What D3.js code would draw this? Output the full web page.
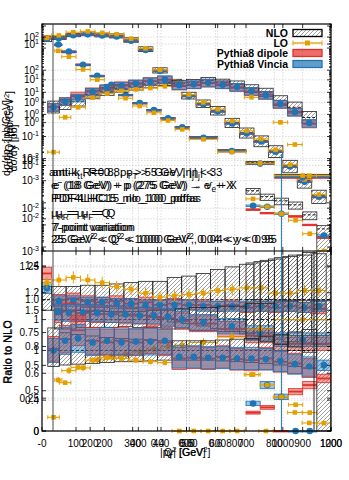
<!DOCTYPE html>
<html lang="en">
<head>
<meta charset="UTF-8">
<title>Jet cross sections and ratio to NLO</title>
<script src="https://cdn.jsdelivr.net/npm/d3@7/dist/d3.min.js"></script>
<style>
  body { margin: 0; background: #fff; }
  svg { display: block; font-family: 'Liberation Sans', Arial, sans-serif; }
</style>
</head>
<body>
<svg id="chart" width="349" height="480"></svg>
<script>
// ---- data: jet pT distribution (bins in GeV as on the pT axis)
const ptEdges = [0, 40, 100, 160, 220, 280, 340, 400, 460, 520, 580, 640, 700, 760, 820, 880, 940, 1000, 1060, 1120, 1180];
const ptNLO = [85, 95, 111, 118, 111, 106, 85, 52, 16.8, 8.8, 4.35, 2.82, 1.93, 1.01, 0.59, 0.38, 0.22, 0.099, 0.044, 0.0195];
const ptNLOup = [1.1, 1.1, 1.1, 1.11, 1.11, 1.12, 1.13, 1.14, 1.14, 1.17, 1.18, 1.2, 1.23, 1.25, 1.27, 1.29, 1.31, 1.33, 1.34, 1.35];
const ptNLOdn = [0.92, 0.92, 0.92, 0.91, 0.91, 0.9, 0.89, 0.88, 0.86, 0.83, 0.82, 0.8, 0.78, 0.76, 0.74, 0.72, 0.7, 0.68, 0.67, 0.66];
const ptLO = [1.13, 1.15, 1.17, 1.15, 1.13, 1.1, 1.08, 1.05, 1.02, 1.03, 1.04, 1.05, 1.07, 1.08, 1.09, 1.09, 1.05, 1.05, 1.07, 1.07];
const ptDipole = [1.2, 1.0, 1.01, 0.99, 0.98, 0.99, 0.97, 0.98, 0.96, 0.97, 0.96, 0.96, 0.95, 0.96, 0.94, 0.95, 0.94, 0.95, 0.94, 0.93];
const ptVincia = [1.09, 0.99, 0.99, 0.98, 0.98, 0.97, 0.97, 0.96, 0.96, 0.96, 0.96, 0.95, 0.95, 0.95, 0.95, 0.95, 0.95, 0.95, 0.94, 0.95];

// ---- Q2 distribution
const q2Edges = [25, 50, 100, 150, 200, 250, 300, 350, 400, 450, 500, 600, 700, 800, 1000];
const q2NLO = [1368, 658, 169, 53, 20.8, 7.3, 3.16, 1.52, 0.66, 0.26, 0.09, 0.023, 0.0066, 0.0017];
const q2NLOup = [1.08, 1.07, 1.07, 1.07, 1.06, 1.06, 1.06, 1.07, 1.07, 1.08, 1.09, 1.1, 1.12, 1.14];
const q2NLOdn = [0.93, 0.93, 0.94, 0.94, 0.94, 0.95, 0.94, 0.94, 0.93, 0.93, 0.92, 0.91, 0.9, 0.88];
const q2LO = [0.55, 0.62, 0.64, 0.7, 0.72, 0.74, 0.76, 0.78, 0.8, 0.81, 0.83, 0.87, 0.93, 1.0];
const q2Dipole = [1.04, 1.06, 1.05, 1.04, 1.04, 1.03, 1.03, 1.02, 1.01, 0.99, 0.97, 0.93, 0.88, 0.82];
const q2Vincia = [1.06, 1.05, 1.05, 1.05, 1.04, 1.04, 1.03, 1.03, 1.02, 1.0, 0.98, 0.95, 0.9, 0.85];

// ---- inelasticity y distribution
const yEdges = [0.02, 0.06, 0.1, 0.15, 0.2, 0.25, 0.3, 0.35, 0.4, 0.45, 0.5, 0.55, 0.6, 0.65, 0.7, 0.75, 0.8, 0.85, 0.9, 0.95];
const yNLO = [0.82, 0.92, 1.04, 1.37, 1.55, 1.74, 1.89, 2.04, 2.21, 2.13, 2.21, 2.39, 2.21, 2.04, 1.74, 1.49, 1.08, 0.82, 0.55];
const yNLOup = [1.28, 1.22, 1.2, 1.18, 1.16, 1.15, 1.14, 1.13, 1.12, 1.12, 1.12, 1.12, 1.13, 1.14, 1.15, 1.17, 1.2, 1.23, 1.26];
const yNLOdn = [0.8, 0.82, 0.83, 0.84, 0.85, 0.86, 0.86, 0.87, 0.88, 0.88, 0.88, 0.88, 0.87, 0.86, 0.85, 0.84, 0.82, 0.8, 0.78];
const yLO = [0.17, 0.6, 0.79, 0.88, 0.91, 0.9, 0.88, 0.86, 0.85, 0, 0, 0, 0, 0, 0.7, 0, 0.42, 0.23, 0.1];
const yDipole = [1.02, 1.14, 1.25, 1.12, 1.1, 1.12, 1.1, 1.13, 1.1, 0.9, 0.91, 0.9, 0.92, 0.89, 0.88, 0.9, 0.86, 0.84, 0.78];
const yVincia = [1.0, 1.12, 1.15, 1.1, 1.12, 1.1, 1.11, 1.11, 1.12, 0.92, 0.92, 0.91, 0.91, 0.9, 0.9, 0.89, 0.87, 0.83, 0.8];

// ---- high-Q2 tail
const hqEdges = [700, 750, 800, 850, 900, 950, 1000];
const hqNLO = [3.5e-4, 1.9e-4, 1.23e-4, 8.1e-5, 2.85e-5, 6.6e-6];
const hqNLOup = [1.28, 1.3, 1.32, 1.34, 1.36, 1.4];
const hqNLOdn = [0.7, 0.68, 0.66, 0.64, 0.6, 0.0];
const hqLO = [0.43, 0.35, 0.26, 0.2, 0.14, 0.06];
const hqDipole = [0.14, 0.18, 0, 0.3, 0.35, 0.4];
const hqVincia = [0.21, 0.35, 0.26, 0, 0, 0.5];
const hqVinciaErr = [0.05, 0.06, 500, 0, 0, 0.08];

// ---- axis ticks
const ptTicks = [0, 200, 400, 600, 800, 1000, 1200];
const ptLabels = ["-0", "200", "400", "600", "800", "1000", "1200"];
const q2Ticks = [100, 200, 300, 400, 500, 600, 700, 800, 900, 1000];
const yvTicks = [0.4, 0.5, 0.6];
const logTicksA = [2, 1, 0, -1, -2, -3];
const logTicksB = [2, 1, 0, -1, -2, -3];
const logTicksC = [1, 0, -1, -2];
const r2Ticks = [0, 0.25, 0.5, 0.75, 1, 1.25];
const r2Labels = ["0", "0.25", "0.5", "0.75", "1.0", "1.25"];
const r3Ticks = [0, 0.5, 1, 1.5];
const r4Ticks = [0.4, 0.6, 0.8, 1, 1.2, 1.4];

const legendNames = ["NLO", "LO", "Pythia8 dipole", "Pythia8 Vincia"];

// ---- layout
const L = 42, R = 331, TOP = 24, MID = 251, BOT = 431;
const LO_COL = "#e69f00", RED = "#e2312a", BLUE = "#1f74b4";

const svg = d3.select("#chart");
const defs = svg.append("defs");
defs.append("pattern").attr("id", "hatch").attr("patternUnits", "userSpaceOnUse")
  .attr("width", 4).attr("height", 4)
  .append("path").attr("d", "M-1,1 l2,-2 M0,4 l4,-4 M3,5 l2,-2")
  .attr("stroke", "#555").attr("stroke-width", 0.55);
defs.append("clipPath").attr("id", "clipTop").append("rect")
  .attr("x", L).attr("y", TOP).attr("width", R - L).attr("height", MID - TOP);
defs.append("clipPath").attr("id", "clipRatio").append("rect")
  .attr("x", L - 3).attr("y", MID).attr("width", R - L + 3).attr("height", BOT - MID + 4);

const xs = {
  pt: d3.scaleLinear().domain([0, 1200]).range([L, R]),
  q2: d3.scaleLinear().domain([-20, 1000]).range([L, R]),
  y: d3.scaleLinear().domain([0, 1]).range([L, R])
};
const ys = {
  A: d3.scaleLog().domain([1e-3, 202]).range([MID, TOP]).clamp(true),
  B: d3.scaleLog().domain([6.6e-7, 1.23e4]).range([MID, TOP]).clamp(true),
  C: d3.scaleLog().domain([2.8e-3, 22.1]).range([MID, TOP]).clamp(true)
};
const rs = {
  R2: d3.scaleLinear().domain([0, 1.371]).range([BOT, MID]).clamp(true),
  R3: d3.scaleLinear().domain([0, 2.235]).range([BOT, MID]).clamp(true),
  R4: d3.scaleLinear().domain([0.17, 1.511]).range([BOT, MID]).clamp(true)
};

const series = [
  { edges: ptEdges, nlo: ptNLO, up: ptNLOup, dn: ptNLOdn, lo: ptLO, dip: ptDipole, vin: ptVincia, x: "pt", y: "A", r: "R2", band: 0.04 },
  { edges: q2Edges, nlo: q2NLO, up: q2NLOup, dn: q2NLOdn, lo: q2LO, dip: q2Dipole, vin: q2Vincia, x: "q2", y: "B", r: "R4", band: 0.06 },
  { edges: yEdges, nlo: yNLO, up: yNLOup, dn: yNLOdn, lo: yLO, dip: yDipole, vin: yVincia, x: "y", y: "C", r: "R3", band: 0.15 },
  { edges: hqEdges, nlo: hqNLO, up: hqNLOup, dn: hqNLOdn, lo: hqLO, dip: hqDipole, vin: hqVincia, vErr: hqVinciaErr, x: "q2", y: "B", r: "R2", band: 0.08 }
];

// ---- grid
const grid = svg.append("g").attr("stroke", "#c4c4c4").attr("stroke-width", 0.6).attr("stroke-dasharray", "1.5,1.5");
[[xs.pt, ptTicks], [xs.q2, q2Ticks], [xs.y, yvTicks]].forEach(([sc, t]) => {
  t.forEach(v => grid.append("line").attr("x1", sc(v)).attr("x2", sc(v)).attr("y1", TOP).attr("y2", BOT));
});
[[ys.A, logTicksA], [ys.B, logTicksB], [ys.C, logTicksC]].forEach(([sc, t]) => {
  t.forEach(e => grid.append("line").attr("x1", L).attr("x2", R).attr("y1", sc(Math.pow(10, e))).attr("y2", sc(Math.pow(10, e))));
});
[[rs.R2, r2Ticks], [rs.R3, r3Ticks], [rs.R4, r4Ticks]].forEach(([sc, t]) => {
  t.forEach(v => grid.append("line").attr("x1", L).attr("x2", R).attr("y1", sc(v)).attr("y2", sc(v)));
});

// ---- series drawing
function drawSeries(g, s, ysc, isTop) {
  const xsc = xs[s.x];
  const ok = v => !isTop || v > 0;
  s.nlo.forEach((n, i) => {
    const base = isTop ? n : 1;
    const x0 = xsc(s.edges[i]), x1 = xsc(s.edges[i + 1]), xm = (x0 + x1) / 2;
    // NLO band
    const hi = ysc(base * s.up[i]), lo = ysc(base * s.dn[i]);
    g.append("rect").attr("x", x0).attr("y", hi).attr("width", x1 - x0).attr("height", Math.max(lo - hi, 1))
      .attr("fill", "url(#hatch)").attr("stroke", "#222").attr("stroke-width", 0.8);
    g.append("line").attr("x1", x0).attr("x2", x1).attr("y1", ysc(base)).attr("y2", ysc(base))
      .attr("stroke", "#111").attr("stroke-width", 1).attr("stroke-dasharray", "3,2");
    // Pythia8 dipole
    const d = base * s.dip[i];
    if (ok(d)) {
      const a = ysc(d * (1 + s.band)), b = ysc(d * (1 - s.band));
      g.append("rect").attr("x", x0).attr("y", a).attr("width", x1 - x0).attr("height", Math.max(b - a, 1))
        .attr("fill", "rgba(226,49,42,0.45)").attr("stroke", RED).attr("stroke-width", 0.8);
      g.append("line").attr("x1", x0).attr("x2", x1).attr("y1", ysc(d)).attr("y2", ysc(d))
        .attr("stroke", RED).attr("stroke-width", 1.8);
    }
    // Pythia8 Vincia
    const v = base * s.vin[i];
    if (ok(v)) {
      const a = ysc(v * (1 + s.band)), b = ysc(v * (1 - s.band));
      g.append("rect").attr("x", x0).attr("y", a).attr("width", x1 - x0).attr("height", Math.max(b - a, 1))
        .attr("fill", "rgba(31,116,180,0.42)").attr("stroke", BLUE).attr("stroke-width", 0.8);
      const err = s.vErr ? s.vErr[i] : 0.03;
      g.append("line").attr("x1", xm).attr("x2", xm).attr("y1", ysc(v * (1 + err))).attr("y2", ysc(v * (1 - err)))
        .attr("stroke", BLUE).attr("stroke-width", 1);
      g.append("circle").attr("cx", xm).attr("cy", ysc(v)).attr("r", 3.3).attr("fill", BLUE);
    }
    // LO
    const l = base * s.lo[i];
    if (ok(l)) {
      const yl = ysc(l);
      g.append("line").attr("x1", x0).attr("x2", x1).attr("y1", yl).attr("y2", yl).attr("stroke", LO_COL).attr("stroke-width", 1.1);
      [x0, x1].forEach(xc => g.append("line").attr("x1", xc).attr("x2", xc).attr("y1", yl - 2).attr("y2", yl + 2)
        .attr("stroke", LO_COL).attr("stroke-width", 1));
      g.append("line").attr("x1", xm).attr("x2", xm).attr("y1", ysc(l * 1.04)).attr("y2", ysc(l * 0.96))
        .attr("stroke", LO_COL).attr("stroke-width", 1);
      g.append("rect").attr("x", xm - 2.3).attr("y", yl - 2.3).attr("width", 4.6).attr("height", 4.6).attr("fill", LO_COL);
    }
  });
}

const gTop = svg.append("g").attr("clip-path", "url(#clipTop)");
const gRat = svg.append("g").attr("clip-path", "url(#clipRatio)");
series.forEach(s => drawSeries(gTop, s, ys[s.y], true));
series.forEach(s => drawSeries(gRat, s, rs[s.r], false));

// ---- frames and extra panel edges
const frame = svg.append("g").attr("fill", "none").attr("stroke", "#000");
frame.append("rect").attr("x", L).attr("y", TOP).attr("width", R - L).attr("height", BOT - TOP).attr("stroke-width", 1.2);
frame.append("line").attr("x1", L).attr("x2", R).attr("y1", MID).attr("y2", MID).attr("stroke-width", 1.2);
frame.append("line").attr("x1", 53).attr("x2", 53).attr("y1", TOP).attr("y2", BOT).attr("stroke", "#333").attr("stroke-width", 0.9);
frame.append("line").attr("x1", 314).attr("x2", 314).attr("y1", MID).attr("y2", BOT).attr("stroke", "#222").attr("stroke-width", 1);

// ---- ticks
const tk = svg.append("g").attr("stroke", "#000").attr("stroke-width", 0.8);
[[xs.pt, ptTicks], [xs.q2, q2Ticks], [xs.y, yvTicks]].forEach(([sc, t]) => {
  t.forEach(v => {
    const x = sc(v);
    [[TOP, TOP + 4], [MID, MID - 4], [MID, MID + 4], [BOT, BOT - 4]].forEach(([a, b]) =>
      tk.append("line").attr("x1", x).attr("x2", x).attr("y1", a).attr("y2", b));
  });
});
function yTick(y, len) {
  tk.append("line").attr("x1", L).attr("x2", L + len).attr("y1", y).attr("y2", y);
  tk.append("line").attr("x1", R).attr("x2", R - len).attr("y1", y).attr("y2", y);
}
Object.values(ys).forEach(sc => {
  const [d0, d1] = sc.domain();
  for (let e = Math.floor(Math.log10(d0)); e <= Math.ceil(Math.log10(d1)); e++) {
    for (let m = 1; m <= 9; m++) {
      const v = m * Math.pow(10, e);
      if (v >= d0 && v <= d1) yTick(sc(v), m === 1 ? 4 : 2);
    }
  }
});
[[rs.R2, r2Ticks], [rs.R3, r3Ticks], [rs.R4, r4Ticks]].forEach(([sc, t]) => t.forEach(v => yTick(sc(v), 4)));

// ---- tick labels
const lab = svg.append("g").attr("font-size", 10).attr("fill", "#000");
function powLabel(y, e) {
  const t = lab.append("text").attr("x", 39).attr("y", y + 3.5).attr("text-anchor", "end");
  t.append("tspan").text("10");
  t.append("tspan").attr("dy", -4).attr("font-size", 7).text(String(e));
}
logTicksA.forEach(e => powLabel(ys.A(Math.pow(10, e)), e));
logTicksB.forEach(e => powLabel(ys.B(Math.pow(10, e)), e));
logTicksC.forEach(e => powLabel(ys.C(Math.pow(10, e)), e));
r2Ticks.forEach((v, i) => lab.append("text").attr("x", 39).attr("y", rs.R2(v) + 3.5).attr("text-anchor", "end").text(r2Labels[i]));
r3Ticks.forEach(v => lab.append("text").attr("x", 39).attr("y", rs.R3(v) + 3.5).attr("text-anchor", "end").text(String(v)));
r4Ticks.forEach(v => lab.append("text").attr("x", 39).attr("y", rs.R4(v) + 3.5).attr("text-anchor", "end").text(String(v)));
ptTicks.forEach((v, i) => lab.append("text").attr("x", xs.pt(v)).attr("y", 447).attr("text-anchor", "middle").text(ptLabels[i]));
q2Ticks.forEach(v => lab.append("text").attr("x", xs.q2(v)).attr("y", 447).attr("text-anchor", "middle").text(String(v)));
yvTicks.forEach(v => lab.append("text").attr("x", xs.y(v)).attr("y", 447).attr("text-anchor", "middle").text(String(v)));

// ---- rich text helper (sub/superscripts)
function rich(t, parts) {
  let off = 0;
  parts.forEach(([s, k]) => {
    const target = k === "sub" ? 3 : k === "sup" ? -4 : 0;
    t.append("tspan").attr("dy", target - off).attr("font-size", k ? "0.72em" : null).text(s);
    off = target;
  });
}

// ---- axis titles
const titles = svg.append("g").attr("fill", "#000").attr("font-size", 10.5);
[
  [10, 138, [["dσ/dp"], ["T", "sub"], [" [pb/GeV]"]]],
  [13, 132, [["dσ/dQ"], ["2", "sup"], [" [pb/GeV"], ["2", "sup"], ["]"]]],
  [17, 148, [["dσ/dy [pb]"]]]
].forEach(([x, y, parts]) => {
  const t = titles.append("text").attr("transform", `translate(${x},${y}) rotate(-90)`).attr("text-anchor", "middle");
  rich(t, parts);
});
[11, 12].forEach(x => titles.append("text").attr("transform", `translate(${x},352) rotate(-90)`)
  .attr("text-anchor", "middle").attr("font-size", 11).text("Ratio to NLO"));
[
  [160, [["|p"], ["T", "sub"], ["| [GeV]"]]],
  [164, [["Q"], ["2", "sup"], [" [GeV"], ["2", "sup"], ["]"]]],
  [168, [["y"]]]
].forEach(([x, parts]) => rich(titles.append("text").attr("x", x).attr("y", 456), parts));

// ---- annotations
const ann = svg.append("g").attr("fill", "#000").attr("font-size", 11.5);
const annLines = [
  [49, 176, [["anti-k"], ["t", "sub"], [" R=0.8, p"], ["T", "sub"], [" > 5 GeV, |η"], ["j", "sub"], ["| < 3"]]],
  [52, 176, [["anti-k"], ["t", "sub"], [", R=0.8, p"], ["T", "sub"], [" > 5 GeV, |η"], ["j", "sub"], ["| < 3"]]],
  [51, 189, [["e"], ["-", "sup"], [" (18 GeV) + p (275 GeV) → e"], ["-", "sup"], [" + X"]]],
  [53, 189, [["e"], ["-", "sup"], [" (18 GeV) + p (275 GeV) → ν"], ["e", "sub"], [" + X"]]],
  [51, 202, [["PDF4LHC15_nlo_100_pdfas"]]],
  [54, 202, [["PDF4LHC15_nlo_100_pdfas"]]],
  [51, 217, [["μ"], ["R", "sub"], [" = μ"], ["F", "sub"], [" = Q"]]],
  [56, 217, [["μ"], ["R", "sub"], [" = μ"], ["F", "sub"], [" = Q"]]],
  [51, 231, [["7-point variation"]]],
  [53, 231, [["7-point variation"]]],
  [51, 243, [["25 GeV"], ["2", "sup"], [" < Q"], ["2", "sup"], [" < 1000 GeV"], ["2", "sup"], [", 0.04 < y < 0.95"]]],
  [54, 243, [["25 GeV"], ["2", "sup"], [" < Q"], ["2", "sup"], [" < 1000 GeV"], ["2", "sup"], [", 0.04 < y < 0.95"]]]
];
annLines.forEach(([x, y, parts]) => rich(ann.append("text").attr("x", x).attr("y", y), parts));

// ---- legend
const leg = svg.append("g").attr("font-size", 10.5).attr("font-weight", "bold");
legendNames.forEach((name, i) => {
  const cy = [33, 43, 53, 64][i];
  leg.append("text").attr("x", 288).attr("y", cy + 3.8).attr("text-anchor", "end").text(name);
  if (i === 1) {
    leg.append("line").attr("x1", 293).attr("x2", 322).attr("y1", cy).attr("y2", cy).attr("stroke", LO_COL).attr("stroke-width", 1.3);
    [293, 322].forEach(x => leg.append("line").attr("x1", x).attr("x2", x).attr("y1", cy - 2.5).attr("y2", cy + 2.5).attr("stroke", LO_COL));
    leg.append("rect").attr("x", 305).attr("y", cy - 2.5).attr("width", 5).attr("height", 5).attr("fill", LO_COL);
  } else {
    const fill = i === 0 ? "url(#hatch)" : i === 2 ? "rgba(226,49,42,0.7)" : "rgba(31,116,180,0.7)";
    const stroke = i === 0 ? "#000" : i === 2 ? RED : BLUE;
    leg.append("rect").attr("x", 293).attr("y", cy - 3.5).attr("width", 29).attr("height", 7)
      .attr("fill", fill).attr("stroke", stroke).attr("stroke-width", 1.3);
  }
});
</script>
</body>
</html>
